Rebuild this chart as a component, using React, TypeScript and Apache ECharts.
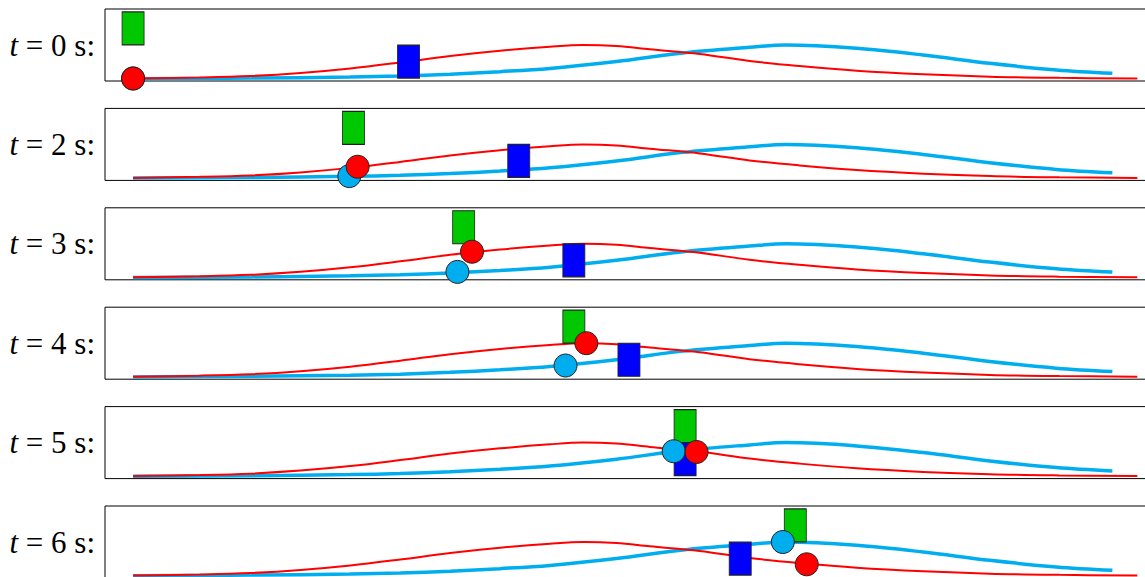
import React, { useEffect, useRef } from "react";
import * as echarts from "echarts";

// times of the snapshots (s)
const times = [0, 2, 3, 4, 5, 6];

// red curve [x, y]
const redCurve = [
  [0, 0.035], [0.64, 0.049], [1.13, 0.069], [1.61, 0.111], [2.09, 0.174],
  [2.57, 0.257], [3.05, 0.347], [3.53, 0.42], [4.01, 0.476], [4.33, 0.5],
  [4.65, 0.486], [4.97, 0.44], [5.45, 0.375], [5.93, 0.278], [6.41, 0.208],
  [6.96, 0.143], [7.6, 0.093], [8.24, 0.06], [8.91, 0.044], [9.66, 0.035],
];

// blue curve [x, y]
const blueCurve = [
  [0, 0.032], [1.13, 0.04], [2.09, 0.056], [2.57, 0.07], [3.05, 0.095],
  [3.53, 0.13], [4.01, 0.175], [4.65, 0.27], [5.29, 0.39], [5.93, 0.468],
  [6.28, 0.5], [6.96, 0.454], [7.6, 0.361], [8.24, 0.246], [8.88, 0.153],
  [9.42, 0.107],
];

// object positions per snapshot
const redCircle = [[0, 0.035], [2.16, 0.19], [3.26, 0.39], [4.36, 0.5], [5.42, 0.37], [6.48, 0.19]];
const blueCircle = [[0, 0.035], [2.08, 0.06], [3.12, 0.11], [4.16, 0.19], [5.2, 0.38], [6.25, 0.5]];
const greenRectX = [0, 2.12, 3.18, 4.24, 5.31, 6.37];
const blueRectX = [2.65, 3.71, 4.24, 4.77, 5.31, 5.84];
const GREEN_Y = 0.73;
const BLUE_RECT_Y = 0.27;

const RED = "#FF0000";
const CYAN = "#00AEEF";
const GREEN = "#00C800";
const BLUE = "#0000FF";

export default function App() {
  const ref = useRef<HTMLDivElement>(null);
  useEffect(() => {
    if (!ref.current) return;
    const chart = echarts.init(ref.current, null, { renderer: "svg" });
    const period = 99.4;
    const grids: any[] = [];
    const xAxes: any[] = [];
    const yAxes: any[] = [];
    const series: any[] = [];
    const graphics: any[] = [];
    times.forEach((t, i) => {
      const top = 9 + i * period;
      grids.push({
        left: 105, top, width: 1050, height: 72,
        outerBoundsMode: "none", containLabel: false,
        show: true, borderColor: "#000", borderWidth: 1, backgroundColor: "#fff",
      });
      xAxes.push({
        type: "value", gridIndex: i, min: -0.27, max: 9.83,
        axisLine: { show: false }, axisTick: { show: false },
        axisLabel: { show: false }, splitLine: { show: false },
      });
      yAxes.push({
        type: "value", gridIndex: i, min: 0, max: 1,
        axisLine: { show: false }, axisTick: { show: false },
        axisLabel: { show: false }, splitLine: { show: false },
      });
      const common = { xAxisIndex: i, yAxisIndex: i, clip: false, silent: true };
      series.push({
        ...common, type: "line", data: blueCurve, smooth: 0.35, showSymbol: false,
        lineStyle: { color: CYAN, width: 3.5 }, z: 1,
      });
      series.push({
        ...common, type: "line", data: redCurve, smooth: 0.35, showSymbol: false,
        lineStyle: { color: RED, width: 2 }, z: 2,
      });
      series.push({
        ...common, type: "scatter", data: [[greenRectX[i], GREEN_Y]], symbol: "rect",
        symbolSize: [22, 33], itemStyle: { color: GREEN, borderColor: "#222", borderWidth: 1, opacity: 1 }, z: 3,
      });
      series.push({
        ...common, type: "scatter", data: [[blueRectX[i], BLUE_RECT_Y]], symbol: "rect",
        symbolSize: [22, 33], itemStyle: { color: BLUE, borderColor: "#222", borderWidth: 1, opacity: 1 }, z: 3,
      });
      series.push({
        ...common, type: "scatter", data: [blueCircle[i]], symbol: "circle",
        symbolSize: 23, itemStyle: { color: CYAN, borderColor: "#222", borderWidth: 1, opacity: 1 }, z: 4,
      });
      series.push({
        ...common, type: "scatter", data: [redCircle[i]], symbol: "circle",
        symbolSize: 23, itemStyle: { color: RED, borderColor: "#222", borderWidth: 1, opacity: 1 }, z: 5,
      });
      graphics.push({
        type: "text",
        x: 95,
        y: top + 36,
        style: {
          text: `{i|t}{n| = ${t} s:}`,
          align: "right",
          verticalAlign: "middle",
          fill: "#000",
          rich: {
            i: { fontFamily: "Liberation Serif", fontStyle: "italic", fontSize: 31, fill: "#000" },
            n: { fontFamily: "Liberation Serif", fontSize: 31, fill: "#000" },
          },
        },
      });
    });
    chart.setOption({
      animation: false,
      backgroundColor: "#fff",
      grid: grids,
      xAxis: xAxes,
      yAxis: yAxes,
      series,
      graphic: graphics,
    });
    return () => chart.dispose();
  }, []);
  return (
    <div
      ref={ref}
      style={{ position: "absolute", left: 0, top: 0, width: 1145, height: 577, overflow: "hidden" }}
    />
  );
}
